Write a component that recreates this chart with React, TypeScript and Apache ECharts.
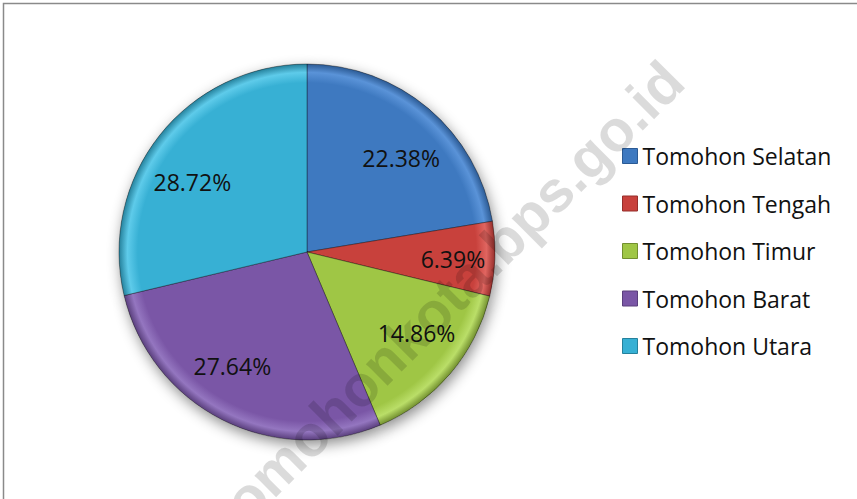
import React, { useEffect, useRef } from "react";
import * as echarts from "echarts";

const categories = ["Tomohon Selatan", "Tomohon Tengah", "Tomohon Timur", "Tomohon Barat", "Tomohon Utara"];
const shares = [22.38, 6.39, 14.86, 27.64, 28.72];
const colors = ["#3E79C0", "#C8413C", "#9FC645", "#7A56A6", "#37B0D4"];
const rims = ["#5A93D8", "#E06560", "#BADE68", "#9476C0", "#5ECBEA"];
const darks = ["#2B5A94", "#962E2B", "#728F2F", "#5A3F7D", "#25819C"];
const watermark = "tomohonkota.bps.go.id";

// small label nudges (Excel places data labels slightly off the slice bisector)
const labelNudges = [[3, 14], [5, 2], [2, -10], [-11, -12], [-4, 17]];

const CX = 307;
const CY = 252;
const R = 188;

export default function App() {
  const ref = useRef<HTMLDivElement>(null);
  useEffect(() => {
    document.body.style.margin = "0";
    const chart = echarts.init(ref.current!, null, { renderer: "svg" });
    const sliceColor = (i: number) => ({
      type: "radial",
      x: CX,
      y: CY,
      r: R,
      global: true,
      colorStops: [
        { offset: 0, color: colors[i] },
        { offset: 0.9, color: colors[i] },
        { offset: 0.955, color: rims[i] },
        { offset: 1, color: darks[i] },
      ],
    });
    const mainData = categories.map((name, i) => ({
      name,
      value: shares[i],
      itemStyle: { color: sliceColor(i) },
    }));
    const plain = categories.map((name, i) => ({ name, value: shares[i] }));
    const labelData = categories.map((name, i) => ({
      name,
      value: shares[i],
      label: { offset: labelNudges[i] },
    }));
    chart.setOption({
      animation: false,
      backgroundColor: "#ffffff",
      legend: {
        orient: "vertical",
        left: 622,
        top: 142,
        padding: 0,
        itemWidth: 15,
        itemHeight: 15,
        itemGap: 19.5,
        icon: "rect",
        selectedMode: false,
        textStyle: { fontFamily: "Open Sans", fontSize: 23, color: "#111", lineHeight: 28 },
        data: categories.map((name, i) => ({
          name,
          itemStyle: { color: colors[i], borderColor: darks[i], borderWidth: 1 },
        })),
      },
      series: [
        {
          type: "pie",
          name: "main",
          z: 3,
          center: [CX, CY],
          radius: [0, R],
          startAngle: 90,
          clockwise: true,
          silent: true,
          label: { show: false },
          labelLine: { show: false },
          itemStyle: { borderColor: "rgba(0,0,0,0.35)", borderWidth: 1 },
          data: mainData,
        },
        {
          type: "pie",
          name: "shadow",
          z: 1,
          center: [CX, CY],
          radius: [0, R],
          startAngle: 90,
          clockwise: true,
          silent: true,
          legendHoverLink: false,
          label: { show: false },
          labelLine: { show: false },
          itemStyle: {
            color: "#999",
            shadowBlur: 14,
            shadowColor: "rgba(0,0,0,0.45)",
            shadowOffsetX: 2,
            shadowOffsetY: 5,
          },
          data: plain,
        },
        {
          type: "pie",
          name: "labels",
          z: 4,
          center: [CX, CY],
          radius: [88, R],
          startAngle: 90,
          clockwise: true,
          silent: true,
          legendHoverLink: false,
          itemStyle: { color: "rgba(0,0,0,0)" },
          label: {
            show: true,
            position: "inside",
            formatter: (p: any) => p.value.toFixed(2) + "%",
            fontFamily: "Open Sans",
            fontSize: 23,
            color: "#111",
          },
          labelLine: { show: false },
          data: labelData,
        },
      ],
      graphic: [
        {
          type: "rect",
          z: 200,
          silent: true,
          shape: { x: 3.5, y: 3.5, width: 900, height: 600 },
          style: { fill: "none", stroke: "#8a8a8a", lineWidth: 1.5 },
        },
        {
          type: "text",
          z: 100,
          silent: true,
          x: 447,
          y: 298,
          rotation: (45 * Math.PI) / 180,
          style: {
            text: watermark,
            fontFamily: "Liberation Sans",
            fontWeight: "bold",
            fontSize: 58,
            fill: "rgba(0,0,0,0.14)",
            align: "center",
            verticalAlign: "middle",
          },
        },
      ],
    });
    return () => chart.dispose();
  }, []);
  return <div ref={ref} style={{ position: "fixed", left: 0, top: 0, width: 857, height: 499 }} />;
}
